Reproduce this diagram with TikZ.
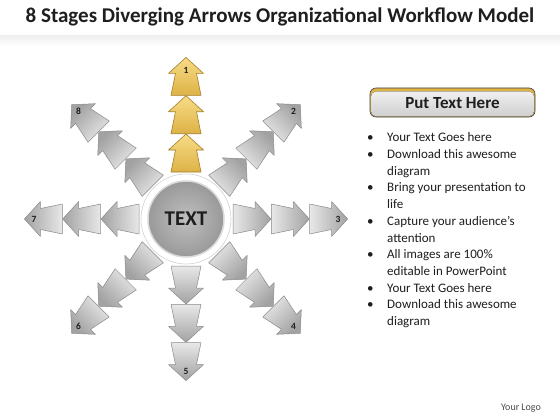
\documentclass[tikz,border=0pt]{standalone}
\usepackage{fontspec}
\setmainfont{Carlito}
\usetikzlibrary{positioning}
\definecolor{goldlt}{HTML}{F7DC86}
\definecolor{golddk}{HTML}{DDB246}
\definecolor{goldln}{HTML}{A47E2A}
\definecolor{graylt}{HTML}{E8E8E8}
\definecolor{graydk}{HTML}{A2A2A2}
\definecolor{grayln}{HTML}{8A8A8A}
\definecolor{inkc}{HTML}{1E1E1E}
\tikzset{goldarr/.style={top color=goldlt, bottom color=golddk, draw=goldln, line width=0.6pt, line join=round}}
\tikzset{grayarr/.style={top color=graydk, bottom color=graylt, draw=grayln, line width=0.5pt, line join=round}}
\tikzset{numlbl/.style={font=\bfseries\fontsize{9.5}{10}\selectfont, text=inkc, inner sep=0pt}}
\tikzset{hubball/.style={circle, minimum size=76pt, inner sep=0pt, inner color=gray!50, outer color=gray!80, draw=gray!30, line width=1.5pt, font=\bfseries\fontsize{21}{24}\selectfont, text=inkc}}
\tikzset{hubring/.style={circle, minimum size=90pt, inner sep=0pt, fill=white, draw=gray!35, line width=0.6pt}}
% one tree shaped arrow, #1 angle, #2 start radius, #3 style
\newcommand\stagearrow[3]{
    \begin{scope}[shift={(ring.center)}, rotate=#1]
        \path[#3, shading angle=#1-90] (#2,-15) -- (#2+22,-10.5) -- (#2+22,-17.5) -- (#2+38,0)
            -- (#2+22,17.5) -- (#2+22,10.5) -- (#2,15) -- cycle;
    \end{scope}
}

\begin{document}
\begin{tikzpicture}[x=1pt, y=-1pt]
    \useasboundingbox (0,0) rectangle (560,420);
    \fill[white] (0,0) rectangle (560,420);
    \fill[top color=gray!12, bottom color=white] (0,36) rectangle (560,46);

    \node[font=\bfseries\fontsize{21}{24}\selectfont, text=inkc] (title) at (280,17) {8 Stages Diverging Arrows Organizational Workflow Model};

    \node[hubring] (ring) at (186,219) {};

    % eight rays of three arrows
    \foreach \a/\n in {45/2, 0/3, -45/4, -90/5, -135/6, 180/7, 135/8}{
        \foreach \r in {47, 85.3, 123.6}{
            \stagearrow{\a}{\r}{grayarr}
        }
        \begin{scope}[shift={(ring.center)}, rotate=\a]
            \node[numlbl] (lbl\n) at (152,0) {\n};
        \end{scope}
    }
    \foreach \r in {47, 85.3, 123.6}{
        \stagearrow{90}{\r}{goldarr}
    }
    \node[numlbl] (lbl1) at (186,70) {1};

    \node[hubball] (hub) at (ring.center) {TEXT};

    % text panel
    \draw[rounded corners=6pt, fill=golddk, draw=gray!50!black, line width=0.6pt] (370,88) rectangle (535,117);
    \fill[rounded corners=5pt, top color=gray!12, bottom color=gray!38] (371,91.5) rectangle (534,116.3);
    \node[font=\bfseries\fontsize{17}{20}\selectfont, text=inkc] (head) at (452.5,103.5) {Put Text Here};

    \node[anchor=north west, inner sep=0pt, text=inkc, font=\fontsize{13}{16.7}\selectfont] (list) at (367,130) {%
        \begin{tabular}{@{}p{20pt}@{}l@{}}
            \textbullet & Your Text Goes here\\
            \textbullet & Download this awesome\\
                        & diagram\\
            \textbullet & Bring your presentation to\\
                        & life\\
            \textbullet & Capture your audience’s\\
                        & attention\\
            \textbullet & All images are 100\%\\
                        & editable in PowerPoint\\
            \textbullet & Your Text Goes here\\
            \textbullet & Download this awesome\\
                        & diagram
        \end{tabular}};

    \node[font=\fontsize{10}{12}\selectfont, text=inkc!80] (logo) at (521,408) {Your Logo};
\end{tikzpicture}
\end{document}
